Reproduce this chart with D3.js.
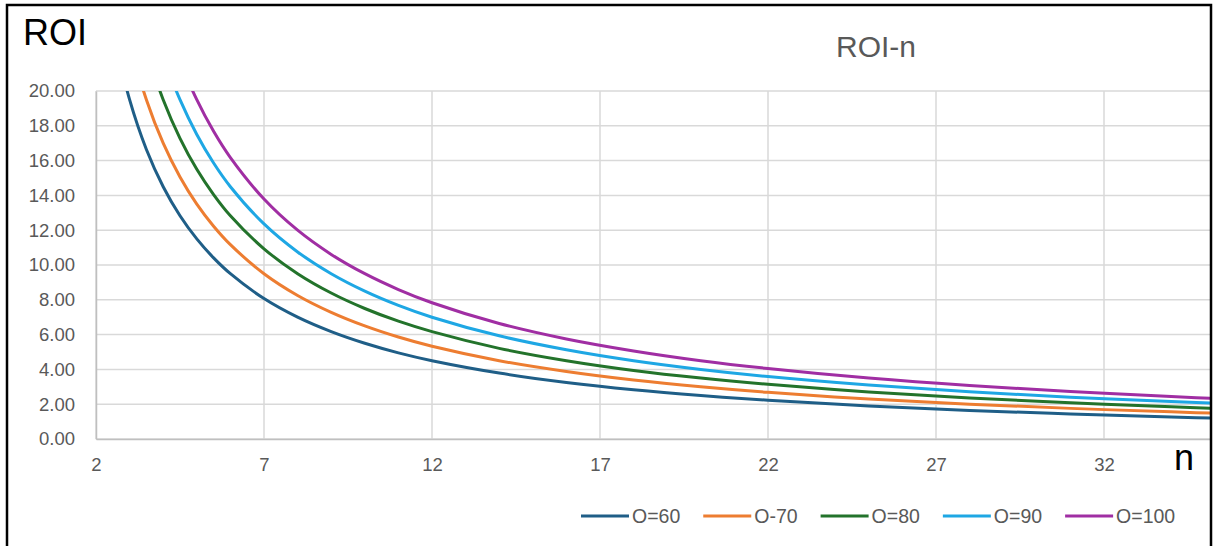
<!DOCTYPE html>
<html>
<head>
<meta charset="utf-8">
<script src="https://cdn.jsdelivr.net/npm/d3@7"></script>
<style>
  html, body { margin: 0; padding: 0; background: #fff; }
  svg { display: block; font-family: "Liberation Sans", Arial, sans-serif; }
</style>
</head>
<body>
<svg id="chart" width="1214" height="546"></svg>
<script>
// ---- data ----
const nValues = [2.5, 3, 3.5, 4, 4.5, 5, 5.5, 6, 7, 8, 9, 10, 11, 12, 14, 16, 18, 20, 22, 25, 28, 31, 34, 36];
const seriesNames = ["O=60", "O-70", "O=80", "O=90", "O=100"];
const roiO60  = [23.5, 19.5, 16.64, 14.5, 12.83, 11.5, 10.41, 9.5, 8.07, 7.0, 6.17, 5.5, 4.95, 4.5, 3.79, 3.25, 2.83, 2.5, 2.23, 1.9, 1.64, 1.44, 1.26, 1.17];
const roiO70  = [27.5, 22.83, 19.5, 17.0, 15.06, 13.5, 12.23, 11.17, 9.5, 8.25, 7.28, 6.5, 5.86, 5.33, 4.5, 3.88, 3.39, 3.0, 2.68, 2.3, 2.0, 1.76, 1.56, 1.44];
const roiO80  = [31.5, 26.17, 22.36, 19.5, 17.28, 15.5, 14.05, 12.83, 10.93, 9.5, 8.39, 7.5, 6.77, 6.17, 5.21, 4.5, 3.94, 3.5, 3.14, 2.7, 2.36, 2.08, 1.85, 1.72];
const roiO90  = [35.5, 29.5, 25.21, 22.0, 19.5, 17.5, 15.86, 14.5, 12.36, 10.75, 9.5, 8.5, 7.68, 7.0, 5.93, 5.13, 4.5, 4.0, 3.59, 3.1, 2.71, 2.40, 2.15, 2.0];
const roiO100 = [39.5, 32.83, 28.07, 24.5, 21.72, 19.5, 17.68, 16.17, 13.79, 12.0, 10.61, 9.5, 8.59, 7.83, 6.64, 5.75, 5.06, 4.5, 4.05, 3.5, 3.07, 2.73, 2.44, 2.28];
const xTicks = [2, 7, 12, 17, 22, 27, 32];
const yTicks = [0, 2, 4, 6, 8, 10, 12, 14, 16, 18, 20];
const colors = ["#1f5e87", "#ed7d31", "#23732b", "#1ea7e4", "#a02ea3"];

const series = seriesNames.map((name, i) => ({
  name,
  color: colors[i],
  values: [roiO60, roiO70, roiO80, roiO90, roiO100][i].map((v, j) => ({ n: nValues[j], roi: v }))
}));

// ---- layout ----
const svg = d3.select("#chart");
const plot = { left: 96, right: 1210, top: 91, bottom: 439 };
const x = d3.scaleLinear().domain([2, 2 + (plot.right - plot.left) / 33.6]).range([plot.left, plot.right]);
const y = d3.scaleLinear().domain([0, 20]).range([plot.bottom, plot.top]);

svg.append("defs").append("clipPath").attr("id", "clip")
  .append("rect")
  .attr("x", plot.left).attr("y", plot.top)
  .attr("width", plot.right - plot.left).attr("height", plot.bottom - plot.top);

// gridlines
const grid = svg.append("g");
grid.selectAll("line.h").data(yTicks).join("line")
  .attr("x1", plot.left).attr("x2", plot.right)
  .attr("y1", d => y(d)).attr("y2", d => y(d))
  .attr("stroke", "#d9d9d9").attr("stroke-width", 1.5);
grid.selectAll("line.v").data(xTicks).join("line")
  .attr("x1", d => x(d)).attr("x2", d => x(d))
  .attr("y1", plot.top).attr("y2", plot.bottom)
  .attr("stroke", "#d9d9d9").attr("stroke-width", 1.5);

// axes
const yAxis = d3.axisLeft(y).tickValues(yTicks).tickFormat(d3.format(".2f")).tickSize(0).tickPadding(21);
const gy = svg.append("g").attr("transform", `translate(${plot.left},0)`).call(yAxis);
gy.select(".domain").attr("stroke", "#bfbfbf").attr("stroke-width", 1.5);
gy.selectAll("text").attr("fill", "#595959").attr("font-size", 18.5).attr("font-family", "Liberation Sans, Arial, sans-serif");

const xAxis = d3.axisBottom(x).tickValues(xTicks).tickFormat(d3.format("d")).tickSize(0).tickPadding(19);
const gx = svg.append("g").attr("transform", `translate(0,${plot.bottom})`).call(xAxis);
gx.select(".domain").attr("stroke", "#bfbfbf").attr("stroke-width", 1.5);
gx.selectAll("text").attr("fill", "#595959").attr("font-size", 18.5).attr("font-family", "Liberation Sans, Arial, sans-serif");

// lines
const line = d3.line().x(d => x(d.n)).y(d => y(d.roi)).curve(d3.curveCatmullRom.alpha(0.5));
svg.append("g").attr("clip-path", "url(#clip)")
  .selectAll("path").data(series).join("path")
  .attr("d", d => line(d.values))
  .attr("fill", "none")
  .attr("stroke", d => d.color)
  .attr("stroke-width", 3)
  .attr("stroke-linejoin", "round");

// titles
svg.append("text").attr("x", 23).attr("y", 45).text("ROI")
  .attr("font-size", 36).attr("fill", "#000");
svg.append("text").attr("x", 876).attr("y", 57).attr("text-anchor", "middle").text("ROI-n")
  .attr("font-size", 30).attr("fill", "#595959");
svg.append("text").attr("x", 1184).attr("y", 470).attr("text-anchor", "middle").text("n")
  .attr("font-size", 36).attr("fill", "#000");

// legend
const legend = svg.append("g");
let lx = 581;
series.forEach(s => {
  legend.append("line")
    .attr("x1", lx).attr("x2", lx + 48)
    .attr("y1", 516).attr("y2", 516)
    .attr("stroke", s.color).attr("stroke-width", 3);
  const t = legend.append("text")
    .attr("x", lx + 51).attr("y", 523)
    .attr("font-size", 19.5).attr("fill", "#595959")
    .text(s.name);
  const w = t.node().getComputedTextLength();
  lx = lx + 51 + w + 23;
});

// outer border
svg.append("rect").attr("x", 7).attr("y", 5).attr("width", 1204).attr("height", 600)
  .attr("fill", "none").attr("stroke", "#000").attr("stroke-width", 2.5);
</script>
</body>
</html>
